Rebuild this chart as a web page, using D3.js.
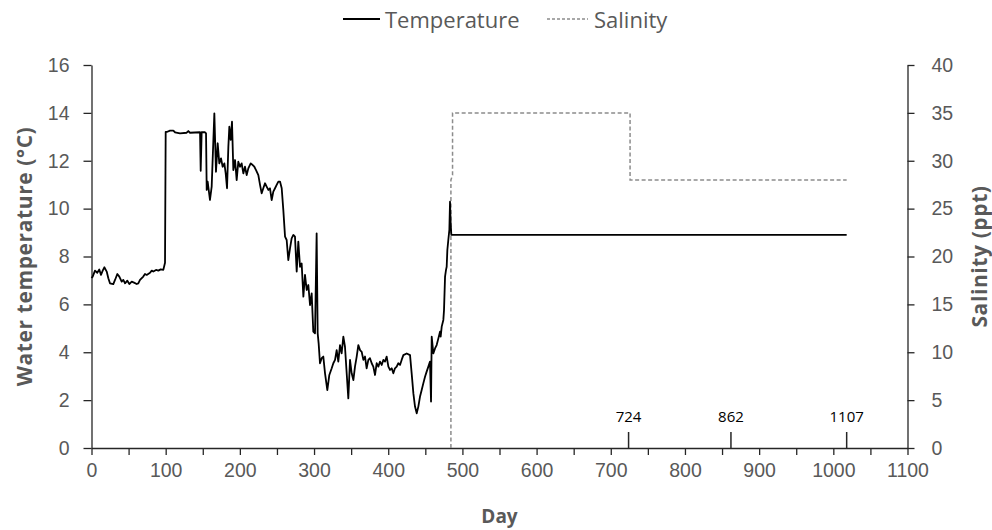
<!DOCTYPE html>
<html>
<head>
<meta charset="utf-8">
<script src="https://cdn.jsdelivr.net/npm/d3@7"></script>
<style>
  body { margin: 0; background: #fff; }
  svg { display: block; font-family: "Open Sans", sans-serif; }
</style>
</head>
<body>
<svg id="chart" width="992" height="530"></svg>
<script>
// temperature series (day, °C)
const tempDay = [0, 1.6, 4.7, 7.8, 10.5, 12.8, 15.1, 17.3, 20.5, 22.7, 24.9, 29.4, 31.7, 34.8, 37.5, 40.7, 42.9, 45.2, 48.3, 51, 54.2, 57.3, 60.9, 63.1, 65.4, 69.8, 72.1, 74.4, 78.9, 81.2, 83.3, 87, 90.1, 93.3, 96.8, 99.1,
  100, 102.2, 105.8, 110.3, 112.6, 119.3, 128.3, 130.5, 132.8, 146.3, 147.2, 148.5, 153, 154.4, 155.3, 156.6, 159.7, 162, 165.6, 167.8, 170.1, 172.3, 174.6, 176.8, 179.1, 180.9, 182.7, 184.5, 185.8, 187.6, 189.4, 191.2, 193.5, 195.7, 197.9, 200.2, 202.4, 204.7, 206.9, 209.2, 211.4, 214.6, 217.3, 219.5, 221.8, 224.9, 227.2, 229.4, 231.6, 233.9, 236.1, 238.4, 240.6, 242.9, 245.1, 247.4, 249.6, 251.9,
  254.1, 256.4, 258.6, 260.9, 263.1, 265.3, 267.6, 269.8, 272.1, 274.3, 276.6, 278.8, 281.1, 283.3, 285.6, 287.8, 290.1, 292.3, 294.6, 296.8, 299, 301.3, 303.5, 304.9, 306.2, 308, 310.3, 312.5, 314.8, 317.9, 320.6, 323.8, 326, 328.3, 330.5, 332.7, 335, 337.2, 339.5, 341.7, 344, 346.2, 348.5, 350.7, 353, 355.2, 357.5, 359.7, 362, 364.2, 366.5, 368.7, 370.9, 373.2, 375.4, 377.7, 379.9, 382.2, 384.4, 386.7, 388.9, 391.2, 393.4, 395.7, 397.9, 400.2, 402.4, 404.7, 406.9, 409.1, 411.4, 413.6,
  415.9, 418.1, 420.4, 424.9, 429.4, 431.6, 433.9, 436.1, 438.4, 440.6, 442.8, 445.1, 447.3, 449.6, 451.8, 454.1, 456.3, 457.7, 458.6, 460.8, 463.1, 465.3, 467.6, 469.8, 470.7, 472.1, 474.3, 475.2, 476.6, 477.9, 478.8, 479.7, 481, 482.4, 483.3, 484.2, 485.1, 1018];
const tempC = [7.1, 7.16, 7.41, 7.32, 7.46, 7.23, 7.41, 7.55, 7.37, 7.09, 6.88, 6.85, 7.02, 7.27, 7.16, 6.95, 7.02, 6.88, 6.99, 6.85, 6.95, 6.91, 6.85, 6.88, 7.02, 7.16, 7.27, 7.23, 7.32, 7.41, 7.37, 7.44, 7.41, 7.46, 7.44, 7.74,
  13.21, 13.21, 13.26, 13.26, 13.19, 13.14, 13.17, 13.24, 13.17, 13.19, 11.58, 13.19, 13.19, 13.14, 10.78, 11.13, 10.36, 10.92, 13.98, 11.54, 12.73, 11.89, 12.1, 11.75, 11.89, 11.47, 10.85, 12.59, 13.42, 12.87, 13.63, 11.61, 12.03, 11.19, 11.96, 11.75, 11.89, 11.47, 11.75, 11.4, 11.68, 11.89, 11.82, 11.75, 11.61, 11.4, 10.99, 10.64, 10.85, 11.06, 10.92, 10.78, 10.85, 10.36, 10.71, 10.85, 10.99, 11.13,
  11.13, 10.85, 9.94, 8.83, 8.69, 7.85, 8.34, 8.76, 8.9, 8.83, 7.37, 8.62, 7.57, 7.71, 6.32, 7.23, 6.6, 6.81, 5.97, 6.46, 4.86, 4.79, 8.97, 4.79, 4.37, 3.54, 3.75, 3.82, 3.12, 2.42, 3.05, 3.33, 3.54, 3.68, 4.09, 3.61, 4.3, 3.95, 4.65, 4.23, 3.12, 2.07, 3.68, 3.12, 2.84, 3.4, 3.82, 4.3, 4.09, 4.02, 3.68, 3.82, 3.33, 3.68, 3.75, 3.54, 3.4, 3.05, 3.54, 3.4, 3.61, 3.47, 3.68, 3.61, 3.82, 3.4, 3.26, 3.33, 3.12, 3.33, 3.4, 3.54,
  3.47, 3.68, 3.88, 3.95, 3.88, 3.12, 2.28, 1.73, 1.45, 1.73, 2.14, 2.42, 2.7, 2.98, 3.19, 3.4, 3.61, 1.94, 4.65, 3.95, 4.16, 4.3, 4.58, 4.86, 4.65, 5.07, 5.35, 5.76, 7.16, 7.44, 7.57, 8.27, 8.69, 9.11, 10.29, 9.38, 8.9, 8.9];

// salinity series (day, ppt)
const salDay = [484.5, 484.5, 486.7, 486.7, 726, 726, 1018];
const salPpt = [0, 28, 28.5, 35, 35, 28, 28];

// day markers on the x axis
const markerDay = [724, 862, 1018];
const markerLabel = ["724", "862", "1107"];

const xTicks = d3.range(0, 1101, 50);
const tempTicks = d3.range(0, 17, 2);
const salTicks = d3.range(0, 41, 5);

const svg = d3.select("#chart");
const grey = "#595959";

const x = d3.scaleLinear().domain([0, 1100]).range([91.5, 907.5]);
const yT = d3.scaleLinear().domain([0, 16]).range([448, 65]);
const yS = d3.scaleLinear().domain([0, 40]).range([448, 65]);

// axes
const xAxis = svg.append("g")
    .attr("transform", `translate(0,${yT(0)})`)
    .call(d3.axisBottom(x).tickValues(xTicks).tickSize(7).tickSizeOuter(0).tickPadding(8)
        .tickFormat(d => d % 100 === 0 ? d : ""));

const leftAxis = svg.append("g")
    .attr("transform", `translate(${x(0)},0)`)
    .call(d3.axisLeft(yT).tickValues(tempTicks).tickSize(8).tickSizeOuter(0).tickPadding(14));

const rightAxis = svg.append("g")
    .attr("transform", `translate(${x(1100)},0)`)
    .call(d3.axisRight(yS).tickValues(salTicks).tickSize(7).tickSizeOuter(0).tickPadding(17));

[xAxis, leftAxis, rightAxis].forEach(g => {
    g.selectAll("path, line").attr("stroke", "#262626").attr("stroke-width", 1.3);
    g.selectAll("text").attr("fill", grey).style("font-size", "19.5px");
});

// day markers
const markers = svg.append("g");
markers.selectAll("line")
    .data(markerDay)
    .join("line")
    .attr("x1", d => x(d)).attr("x2", d => x(d))
    .attr("y1", yT(0)).attr("y2", yT(0) - 16)
    .attr("stroke", "#262626").attr("stroke-width", 1.5);
markers.selectAll("text")
    .data(markerDay)
    .join("text")
    .attr("x", d => x(d))
    .attr("y", yT(0) - 26)
    .attr("text-anchor", "middle")
    .style("font-size", "15px")
    .attr("fill", "#000")
    .text((d, i) => markerLabel[i]);

// salinity line
const salLine = d3.line().x(d => x(d[0])).y(d => yS(d[1]));
svg.append("path")
    .datum(d3.zip(salDay, salPpt))
    .attr("d", salLine)
    .attr("fill", "none")
    .attr("stroke", "#8c8c8c")
    .attr("stroke-width", 1.5)
    .attr("stroke-dasharray", "4,2.5");

// temperature line
const tempLine = d3.line().x(d => x(d[0])).y(d => yT(d[1]));
svg.append("path")
    .datum(d3.zip(tempDay, tempC))
    .attr("d", tempLine)
    .attr("fill", "none")
    .attr("stroke", "#000")
    .attr("stroke-width", 1.8)
    .attr("stroke-linejoin", "round");

// axis titles
svg.append("text")
    .attr("transform", `translate(32,${(yT(0) + yT(16)) / 2}) rotate(-90)`)
    .attr("text-anchor", "middle")
    .attr("fill", grey)
    .style("font-size", "21px").style("font-weight", "bold")
    .style("letter-spacing", "0.6px")
    .text("Water temperature (°C)");

svg.append("text")
    .attr("transform", `translate(987,${(yS(0) + yS(40)) / 2}) rotate(-90)`)
    .attr("text-anchor", "middle")
    .attr("fill", grey)
    .style("font-size", "21px").style("font-weight", "bold")
    .style("letter-spacing", "0.6px")
    .text("Salinity (ppt)");

svg.append("text")
    .attr("x", (x(0) + x(1100)) / 2)
    .attr("y", 523)
    .attr("text-anchor", "middle")
    .attr("fill", grey)
    .style("font-size", "19px").style("font-weight", "bold")
    .text("Day");

// legend
const legend = svg.append("g");
legend.append("line")
    .attr("x1", 343).attr("x2", 380).attr("y1", 19).attr("y2", 19)
    .attr("stroke", "#000").attr("stroke-width", 1.8);
legend.append("text")
    .attr("x", 385).attr("y", 28)
    .attr("fill", grey).style("font-size", "22px")
    .text("Temperature");
legend.append("line")
    .attr("x1", 547).attr("x2", 588).attr("y1", 19).attr("y2", 19)
    .attr("stroke", "#8c8c8c").attr("stroke-width", 1.5).attr("stroke-dasharray", "3,2");
legend.append("text")
    .attr("x", 594).attr("y", 28)
    .attr("fill", grey).style("font-size", "22px")
    .text("Salinity");
</script>
</body>
</html>
